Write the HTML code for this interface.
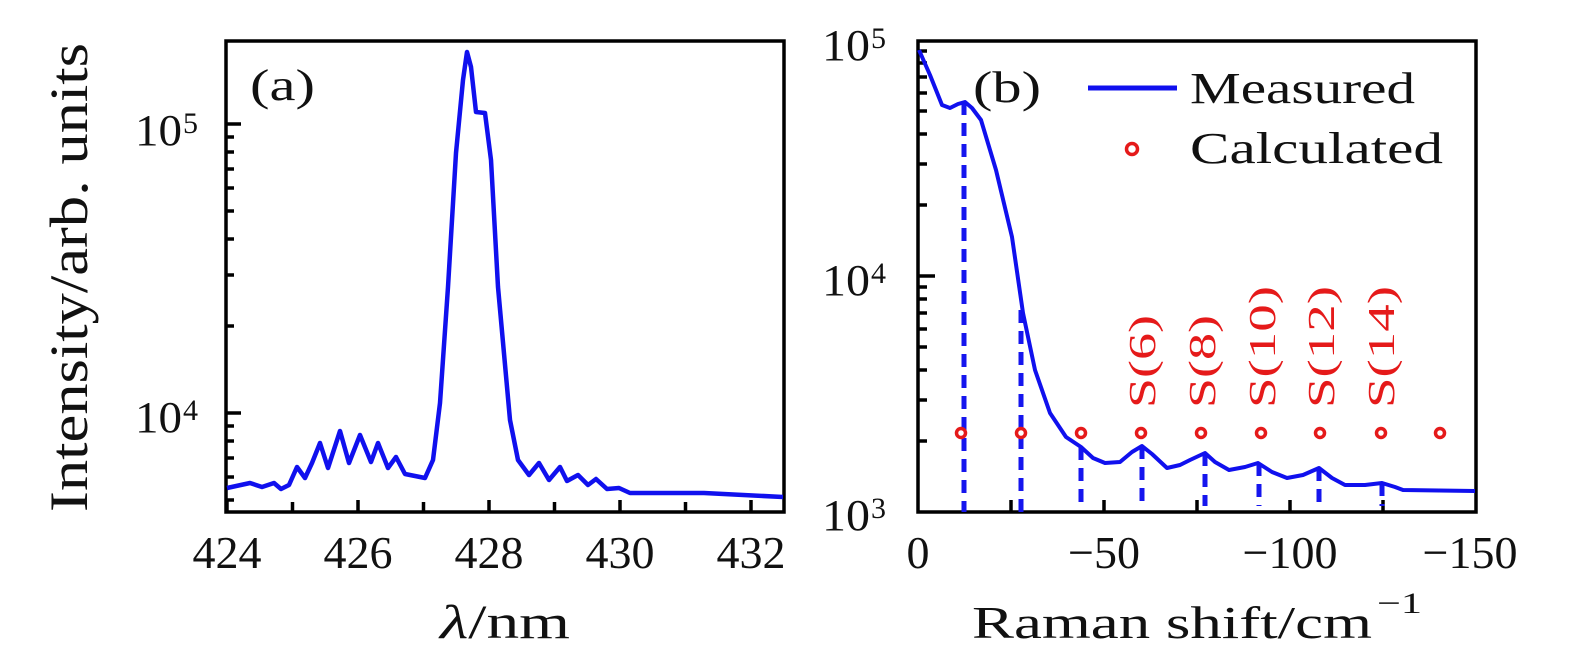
<!DOCTYPE html>
<html><head><meta charset="utf-8"><style>
html,body{margin:0;padding:0;background:#fff;}
svg{display:block;}
text{font-family:"Liberation Serif",serif;fill:#111;}
text.red{fill:#e51a1a;}
</style></head><body>
<svg width="1575" height="659" viewBox="0 0 1575 659" xmlns="http://www.w3.org/2000/svg">
<!-- Panel a -->
<g stroke="#000" stroke-width="3.5" fill="none">
<rect x="226" y="41" width="558" height="471"/>
<line x1="226" y1="124" x2="241" y2="124"/>
<line x1="226" y1="413" x2="241" y2="413"/>
<path d="M226 326h8M226 275h8M226 239h8M226 211h8M226 188h8M226 169h8M226 152h8M226 137h8
M226 500h8M226 477h8M226 458h8M226 441h8M226 426h8"/>
<path d="M227 512v-12M292.5 512v-10M358 512v-12M423.5 512v-10M489 512v-12M554.5 512v-10M620 512v-12M685.5 512v-10M751 512v-12"/>
</g>
<polyline fill="none" stroke="#1010ee" stroke-width="4.5" stroke-linejoin="round" points="227,488 250,483 262,487 274,483 281,489 289,485 297,467 305,478 312,463 320,443 328,468 340,431 349,463 360,435 371,462 378,443 388,468 396,457 405,474 425,478 433,460 440,403 448,287 456,153 463,80 467,52 471,67 476,112 485,113 491,160 498,287 510,420 518,460 529,475 539,463 549,480 560,467 567,481 578,475 588,485 596,479 607,489 619,488 630,493 704,493 783,497"/>
<text x="250" y="100" font-size="44" textLength="65" lengthAdjust="spacingAndGlyphs">(a)</text>
<text x="135" y="145" font-size="44" textLength="47" lengthAdjust="spacingAndGlyphs">10</text>
<text x="183" y="133" font-size="30">5</text>
<text x="135" y="432" font-size="44" textLength="47" lengthAdjust="spacingAndGlyphs">10</text>
<text x="183" y="420" font-size="30">4</text>
<text transform="translate(87,512) rotate(-90)" font-size="54" textLength="469" lengthAdjust="spacingAndGlyphs">Intensity/arb. units</text>
<g font-size="46" text-anchor="middle">
<text x="227" y="568">424</text><text x="358" y="568">426</text><text x="489" y="568">428</text><text x="620" y="568">430</text><text x="751" y="568">432</text>
</g>
<text x="440" y="638" font-size="48" textLength="130" lengthAdjust="spacingAndGlyphs"><tspan font-style="italic">λ</tspan>/nm</text>

<!-- Panel b -->
<g stroke="#000" stroke-width="3.5" fill="none">
<rect x="918" y="41" width="558" height="471"/>
<line x1="918" y1="276" x2="935" y2="276"/>
<path d="M918 441h9M918 400h9M918 370h9M918 347h9M918 329h9M918 313h9M918 299h9M918 287h9
M918 205h9M918 164h9M918 134h9M918 111h9M918 93h9M918 77h9M918 63h9M918 51h9"/>
<path d="M1011 512v-12M1104 512v-12M1197 512v-12M1290 512v-12M1383 512v-12"/>
</g>
<g stroke="#1515ee" stroke-width="5" stroke-dasharray="13,8" fill="none">
<line x1="964" y1="102" x2="964" y2="512"/>
<line x1="1021" y1="310" x2="1021" y2="512"/>
<line x1="1081" y1="447" x2="1081" y2="506"/>
<line x1="1142" y1="446" x2="1142" y2="506"/>
<line x1="1205" y1="453" x2="1205" y2="506"/>
<line x1="1259" y1="463" x2="1259" y2="506"/>
<line x1="1319" y1="468" x2="1319" y2="506"/>
<line x1="1382" y1="483" x2="1382" y2="506"/>
</g>
<polyline fill="none" stroke="#1010ee" stroke-width="4" stroke-linejoin="round" points="919,50 930,75 942,105 950,108 958,104 965,102 972,108 981,120 996,170 1012,237 1023,313 1035,370 1050,413 1066,437 1081,447 1093,458 1105,463 1120,462 1132,452 1142,446 1152,454 1167,468 1180,465 1190,460 1205,453 1215,462 1229,470 1245,467 1258,463 1272,472 1287,478 1303,475 1319,468 1332,478 1345,485 1365,485 1382,483 1395,487 1403,490 1475,491"/>
<g fill="none" stroke="#e51a1a" stroke-width="3.5">
<circle cx="961" cy="433" r="4.5"/><circle cx="1021" cy="433" r="4.5"/><circle cx="1081" cy="433" r="4.5"/>
<circle cx="1141" cy="433" r="4.5"/><circle cx="1201" cy="433" r="4.5"/><circle cx="1261" cy="433" r="4.5"/>
<circle cx="1320" cy="433" r="4.5"/><circle cx="1381" cy="433" r="4.5"/><circle cx="1440" cy="433" r="4.5"/>
<circle cx="1132" cy="149" r="5.5"/>
</g>
<line x1="1088" y1="88" x2="1177" y2="88" stroke="#1010ee" stroke-width="5"/>
<text x="1190" y="103" font-size="44" textLength="225" lengthAdjust="spacingAndGlyphs">Measured</text>
<text x="1190" y="163" font-size="44" textLength="253" lengthAdjust="spacingAndGlyphs">Calculated</text>
<text x="973" y="102" font-size="44" textLength="68" lengthAdjust="spacingAndGlyphs">(b)</text>
<g font-size="38">
<text class="red" transform="translate(1155,408) rotate(-90)" textLength="93" lengthAdjust="spacingAndGlyphs">S(6)</text>
<text class="red" transform="translate(1215,408) rotate(-90)" textLength="93" lengthAdjust="spacingAndGlyphs">S(8)</text>
<text class="red" transform="translate(1275,408) rotate(-90)" textLength="122" lengthAdjust="spacingAndGlyphs">S(10)</text>
<text class="red" transform="translate(1334,408) rotate(-90)" textLength="122" lengthAdjust="spacingAndGlyphs">S(12)</text>
<text class="red" transform="translate(1394,408) rotate(-90)" textLength="122" lengthAdjust="spacingAndGlyphs">S(14)</text>
</g>
<text x="822" y="60" font-size="44" textLength="48" lengthAdjust="spacingAndGlyphs">10</text>
<text x="871" y="48" font-size="30">5</text>
<text x="822" y="295" font-size="44" textLength="48" lengthAdjust="spacingAndGlyphs">10</text>
<text x="871" y="283" font-size="30">4</text>
<text x="822" y="530" font-size="44" textLength="48" lengthAdjust="spacingAndGlyphs">10</text>
<text x="871" y="518" font-size="30">3</text>
<g font-size="46" text-anchor="middle">
<text x="918" y="568">0</text>
<text x="1104" y="568">−50</text>
<text x="1290" y="568">−100</text>
<text x="1470" y="568">−150</text>
</g>
<text x="972" y="638" font-size="46" textLength="400" lengthAdjust="spacingAndGlyphs">Raman shift/cm</text>
<text x="1377" y="613" font-size="30" textLength="45" lengthAdjust="spacingAndGlyphs">−1</text>
</svg>
</body></html>
